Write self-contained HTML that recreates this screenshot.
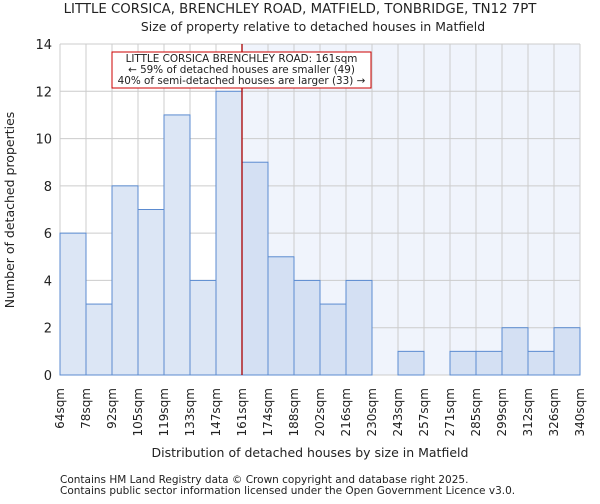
<!DOCTYPE html>
<html><head><meta charset="utf-8"><style>
body{margin:0;background:#fff;font-family:"DejaVu Sans","Liberation Sans",sans-serif}
svg text{font-family:"DejaVu Sans","Liberation Sans",sans-serif;fill:#222}
</style></head><body>
<svg width="600" height="500" xmlns="http://www.w3.org/2000/svg">
<g id="root"></g>
</svg>
<script>
const categories=["64sqm","78sqm","92sqm","105sqm","119sqm","133sqm","147sqm","161sqm","174sqm","188sqm","202sqm","216sqm","230sqm","243sqm","257sqm","271sqm","285sqm","299sqm","312sqm","326sqm","340sqm"];
const counts=[6,3,8,7,11,4,12,9,5,4,3,4,0,1,0,1,1,2,1,2];
const yTicks=[0,2,4,6,8,10,12,14];
const markerIndex=7;
const X0=60,X1=580,Y0=375,Y1=44,YMAX=14;
const bw=(X1-X0)/counts.length;
const xs=i=>X0+i*bw;
const ys=v=>Y0-(v/YMAX)*(Y0-Y1);
const root=document.getElementById('root');
const NS='http://www.w3.org/2000/svg';
function mk(t,a,txt){const e=document.createElementNS(NS,t);for(const k in a)e.setAttribute(k,a[k]);if(txt!=null)e.textContent=txt;root.appendChild(e);return e;}
let e;
e=mk('rect',{x:xs(markerIndex),y:Y1,width:X1-xs(markerIndex),height:Y0-Y1,fill:'#f0f4fc'});


for(let i=0;i<=counts.length;i++){e=mk('line',{x1:xs(i),x2:xs(i),y1:Y1,y2:Y0,stroke:'#cccccc','stroke-width':1});

}
yTicks.forEach(t=>{e=mk('line',{x1:X0,x2:X1,y1:ys(t),y2:ys(t),stroke:'#cccccc','stroke-width':1});


e=mk('text',{x:X0-8,y:ys(t)+5,'text-anchor':'end','font-size':13},t);

});
counts.forEach((v,i)=>{if(v<=0)return;e=mk('rect',{x:xs(i),y:ys(v),width:bw,height:Y0-ys(v),fill:i<markerIndex?'#dce6f5':'#d4e0f3',stroke:'#5b8bd0','stroke-width':1});

});
categories.forEach((c,i)=>{const x=xs(i)+4;e=mk('text',{x:x,y:388,'text-anchor':'end','font-size':12,transform:`rotate(-90 ${x} 388)`},c);

});
e=mk('line',{x1:xs(markerIndex),x2:xs(markerIndex),y1:Y1,y2:Y0,stroke:'#aa0000','stroke-width':1.3});


e=mk('rect',{x:112,y:52,width:259,height:36,fill:'#fff',stroke:'#cc0000','stroke-width':1});


[["LITTLE CORSICA BRENCHLEY ROAD: 161sqm",62],["← 59% of detached houses are smaller (49)",73],["40% of semi-detached houses are larger (33) →",84]].forEach(([t,y])=>{e=mk('text',{x:241.5,y:y,'text-anchor':'middle','font-size':10.4},t);

});
e=mk('text',{x:300,y:13,'text-anchor':'middle','font-size':13.3},'LITTLE CORSICA, BRENCHLEY ROAD, MATFIELD, TONBRIDGE, TN12 7PT');


e=mk('text',{x:313,y:31,'text-anchor':'middle','font-size':12.4},'Size of property relative to detached houses in Matfield');


e=mk('text',{x:14,y:210,'text-anchor':'middle','font-size':12.5,transform:'rotate(-90 14 210)'},'Number of detached properties');


e=mk('text',{x:310,y:457,'text-anchor':'middle','font-size':12.5},'Distribution of detached houses by size in Matfield');


e=mk('text',{x:60,y:483,'font-size':10.5},'Contains HM Land Registry data © Crown copyright and database right 2025.');


e=mk('text',{x:60,y:494,'font-size':10.5},'Contains public sector information licensed under the Open Government Licence v3.0.');


</script>
</body></html>
